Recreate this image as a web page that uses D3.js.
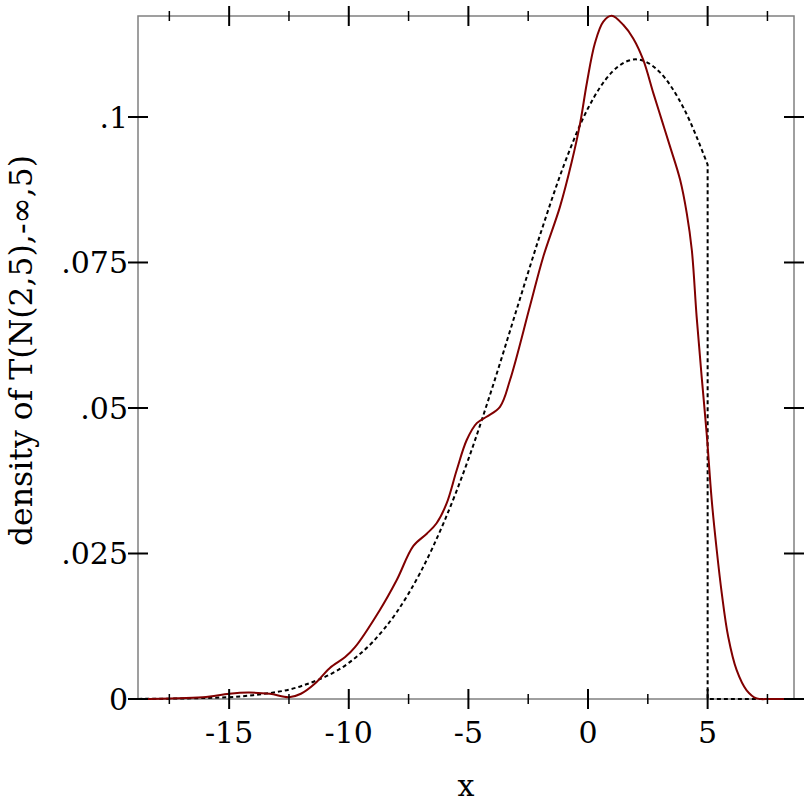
<!DOCTYPE html>
<html>
<head>
<meta charset="utf-8">
<script src="https://cdn.jsdelivr.net/npm/d3@7"></script>
<style>
  body { margin: 0; background: #fff; }
  svg { display: block; }
</style>
</head>
<body>
<div id="chart"></div>
<script>
// sample estimate (red)
var sampleX = [-18.8, -16.1, -15.0, -14.2, -13.3, -12.5, -12.0, -11.4, -10.8, -10.15, -9.74,
  -8.7, -8.0, -7.3, -6.74, -6.33, -5.91, -5.49, -5.07, -4.65, -4.24, -3.68, -3.26, -2.42,
  -1.87, -1.17, -0.68, -0.33, -0.05, 0.29, 0.64, 0.99, 1.48, 1.89, 2.31, 2.73, 3.08, 3.43,
  3.85, 4.13, 4.34, 4.54, 4.75, 4.96, 5.17, 5.38, 5.59, 5.86, 6.21, 6.63, 7.05, 7.6, 8.6];
var sampleY = [0, 0.0003, 0.0009, 0.0011, 0.0009, 0.0003, 0.0009, 0.0027, 0.0053, 0.0072, 0.0089,
  0.0153, 0.0204, 0.0263, 0.0284, 0.0302, 0.0336, 0.0393, 0.0445, 0.0474, 0.0485, 0.0502, 0.0548, 0.0676,
  0.076, 0.0846, 0.0923, 0.0989, 0.1058, 0.1127, 0.1164, 0.1174, 0.1158, 0.1135, 0.1098, 0.1041, 0.0995, 0.0949,
  0.0892, 0.0834, 0.0771, 0.0657, 0.0554, 0.0456, 0.0342, 0.0256, 0.0182, 0.0107, 0.005, 0.0015, 0.0001, 0, 0];

// exact density (dashed)
var densX = [-18.8, -16, -14, -12, -10, -9, -8, -7, -6, -5, -4, -3, -2, -1, 0, 1, 2, 3, 4, 5];
var densY = [0.00002, 0.00017, 0.00066, 0.0022, 0.0062, 0.0098, 0.0149, 0.0218, 0.0306, 0.0412,
  0.0535, 0.0667, 0.0798, 0.0918, 0.1015, 0.1077, 0.1099, 0.1077, 0.1015, 0.0918];
var tailX = [5, 5, 8.6];
var tailY = [0.0918, 0, 0];

var xMajor = [-15, -10, -5, 0, 5];
var xMinor = [-17.5, -12.5, -7.5, -2.5, 2.5, 7.5];
var yMajor = [0, 0.025, 0.05, 0.075, 0.1];
var yLabels = ["0", ".025", ".05", ".075", ".1"];

var W = 812, H = 812;
var margin = {left: 138, right: 18, top: 16, bottom: 113};
var font = "'DejaVu Serif', serif";

var x = d3.scaleLinear().domain([-18.81, 8.61]).range([margin.left, W - margin.right]);
var y = d3.scaleLinear().domain([0, 0.11735]).range([H - margin.bottom, margin.top]);

var svg = d3.select("#chart").append("svg").attr("width", W).attr("height", H);

// frame
var x0 = x.range()[0], x1 = x.range()[1], y0 = y.range()[0], y1 = y.range()[1];
svg.append("rect")
  .attr("x", x0).attr("y", y1).attr("width", x1 - x0).attr("height", y0 - y1)
  .attr("fill", "none").attr("stroke", "#808080").attr("stroke-width", 1.5);

// curves
var smooth = d3.line().x(function(d){ return x(d[0]); }).y(function(d){ return y(Math.max(0, d[1])); })
  .curve(d3.curveMonotoneX);
var red = d3.line().x(function(d){ return x(d[0]); }).y(function(d){ return y(d[1]); })
  .curve(d3.curveCatmullRom.alpha(0.5));
var lin = d3.line().x(function(d){ return x(d[0]); }).y(function(d){ return y(d[1]); });

var dens = d3.zip(densX, densY);
var tail = d3.zip(tailX, tailY);
var sample = d3.zip(sampleX, sampleY);

svg.append("path")
  .attr("d", smooth(dens) + lin(tail).replace(/^M/, "L"))
  .attr("fill", "none").attr("stroke", "#000").attr("stroke-width", 2)
  .attr("stroke-dasharray", "4,3");

svg.append("path")
  .attr("d", red(sample))
  .attr("fill", "none").attr("stroke", "#800000").attr("stroke-width", 2);

// ticks
var ticks = svg.append("g").attr("stroke", "#000").attr("stroke-width", 2);
xMajor.forEach(function(v){
  [y0, y1].forEach(function(yy){
    ticks.append("line").attr("x1", x(v)).attr("x2", x(v)).attr("y1", yy - 10).attr("y2", yy + 10);
  });
});
xMinor.forEach(function(v){
  [y0, y1].forEach(function(yy){
    ticks.append("line").attr("x1", x(v)).attr("x2", x(v)).attr("y1", yy - 5).attr("y2", yy + 5)
      .attr("stroke-width", 1.5);
  });
});
yMajor.forEach(function(v){
  [x0, x1].forEach(function(xx){
    ticks.append("line").attr("y1", y(v)).attr("y2", y(v)).attr("x1", xx - 10).attr("x2", xx + 10);
  });
});

// tick labels
svg.append("g").selectAll("text").data(xMajor).join("text")
  .attr("x", function(d){ return x(d); }).attr("y", y0 + 44)
  .attr("text-anchor", "middle").attr("font-family", font).attr("font-size", 30)
  .text(function(d){ return d; });

svg.append("g").selectAll("text").data(yMajor).join("text")
  .attr("x", x0 - 10).attr("y", function(d){ return y(d) + 11; })
  .attr("text-anchor", "end").attr("font-family", font).attr("font-size", 30)
  .text(function(d, i){ return yLabels[i]; });

// axis titles
svg.append("text")
  .attr("x", (x0 + x1) / 2).attr("y", 796)
  .attr("text-anchor", "middle").attr("font-family", font).attr("font-size", 30)
  .text("x");

svg.append("text")
  .attr("transform", "translate(32," + ((y0 + y1) / 2 - 7) + ") rotate(-90)")
  .attr("text-anchor", "middle").attr("font-family", font).attr("font-size", 31.5)
  .text("density of T(N(2,5),-∞,5)");
</script>
</body>
</html>
